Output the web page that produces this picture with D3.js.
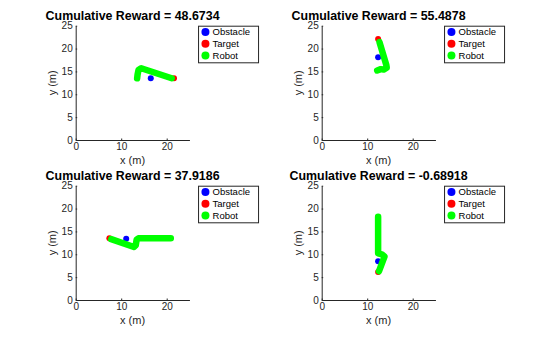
<!DOCTYPE html>
<html><head><meta charset="utf-8">
<script src="https://cdn.jsdelivr.net/npm/d3@7"></script>
<style>body{margin:0;background:#fff;} svg{display:block;font-family:Arial,"Liberation Sans",sans-serif;}</style>
</head><body><svg id="c" width="560" height="337"></svg>
<script>
const titles = ["Cumulative Reward = 48.6734", "Cumulative Reward = 55.4878", "Cumulative Reward = 37.9186", "Cumulative Reward = -0.68918"];
const obstacleX = [16.5, 12.4, 11.1, 12.4];
const obstacleY = [13.5, 18.1, 13.4, 8.5];
const targetX = [21.6, 12.4, 7.4, 12.4];
const targetY = [13.5, 22.1, 13.5, 6.1];
const robotX = [
  [13.5, 13.6, 13.8, 14.4, 21.1],
  [12.2, 13.0, 13.6, 14.3, 14.2, 12.7],
  [20.9, 13.8, 13.4, 13.2, 12.8, 7.8],
  [12.4, 12.4, 13.2, 13.8, 12.6]
];
const robotY = [
  [13.5, 14.3, 15.3, 15.7, 13.5],
  [15.2, 15.5, 15.4, 15.8, 16.4, 21.4],
  [13.5, 13.5, 13.2, 12.0, 11.6, 13.3],
  [18.2, 10.2, 10.0, 9.5, 6.3]
];
const xTicks = [0, 10, 20];
const yTicks = [0, 5, 10, 15, 20, 25];
const legendLabels = ["Obstacle", "Target", "Robot"];
const legendColors = ["#0000ff", "#ff0000", "#00ff00"];

const svg = d3.select("#c");
const lefts = [75.7, 321.7], tops = [25.7, 185.7];
const W = 113.75, H = 114.3;
const axisColor = "#262626";

titles.forEach((t, i) => {
  const ox = lefts[i % 2], oy = tops[Math.floor(i / 2)];
  const g = svg.append("g").attr("transform", `translate(${ox},${oy})`);
  const x = d3.scaleLinear().domain([0, 25]).range([0, W]);
  const y = d3.scaleLinear().domain([0, 25]).range([H, 0]);

  const xa = g.append("g").attr("transform", `translate(0,${H})`)
    .call(d3.axisBottom(x).tickValues(xTicks).tickSize(-1.5).tickPadding(3).tickSizeOuter(0));
  const ya = g.append("g")
    .call(d3.axisLeft(y).tickValues(yTicks).tickSize(-1.5).tickPadding(3).tickSizeOuter(0));
  [xa, ya].forEach(a => {
    a.select(".domain").attr("stroke", axisColor);
    a.selectAll(".tick line").attr("stroke", axisColor);
    a.selectAll("text").attr("fill", axisColor).attr("font-size", 10).attr("font-family", "Arial, 'Liberation Sans', sans-serif");
  });

  g.append("text").attr("x", W / 2).attr("y", H + 24.5).attr("text-anchor", "middle")
    .attr("font-size", 11).attr("fill", axisColor).text("x (m)");
  g.append("text").attr("transform", `translate(-20,${H / 2}) rotate(-90)`).attr("text-anchor", "middle")
    .attr("font-size", 11).attr("fill", axisColor).text("y (m)");
  g.append("text").attr("x", W / 2).attr("y", -6).attr("text-anchor", "middle")
    .attr("font-size", 12.4).attr("font-weight", "bold").attr("fill", "#000").text(t);

  g.append("circle").attr("cx", x(obstacleX[i])).attr("cy", y(obstacleY[i])).attr("r", 3).attr("fill", legendColors[0]);
  g.append("circle").attr("cx", x(targetX[i])).attr("cy", y(targetY[i])).attr("r", 3).attr("fill", legendColors[1]);
  const pts = robotX[i].map((v, k) => [v, robotY[i][k]]);
  g.append("path").attr("d", d3.line().x(d => x(d[0])).y(d => y(d[1]))(pts))
    .attr("fill", "none").attr("stroke", legendColors[2]).attr("stroke-width", 6.5)
    .attr("stroke-linecap", "round").attr("stroke-linejoin", "round");

  const lg = g.append("g").attr("transform", `translate(${W + 8.6},0)`);
  lg.append("rect").attr("x", 0.5).attr("y", 0.5).attr("width", 60).attr("height", 36.6)
    .attr("fill", "#fff").attr("stroke", axisColor).attr("stroke-width", 1);
  legendLabels.forEach((l, k) => {
    const cy = 6.3 + k * 11.8;
    lg.append("circle").attr("cx", 7.4).attr("cy", cy).attr("r", 4).attr("fill", legendColors[k]);
    lg.append("text").attr("x", 14.5).attr("y", cy + 3.3).attr("font-size", 9.5).attr("fill", "#000").text(l);
  });
});
</script></body></html>
